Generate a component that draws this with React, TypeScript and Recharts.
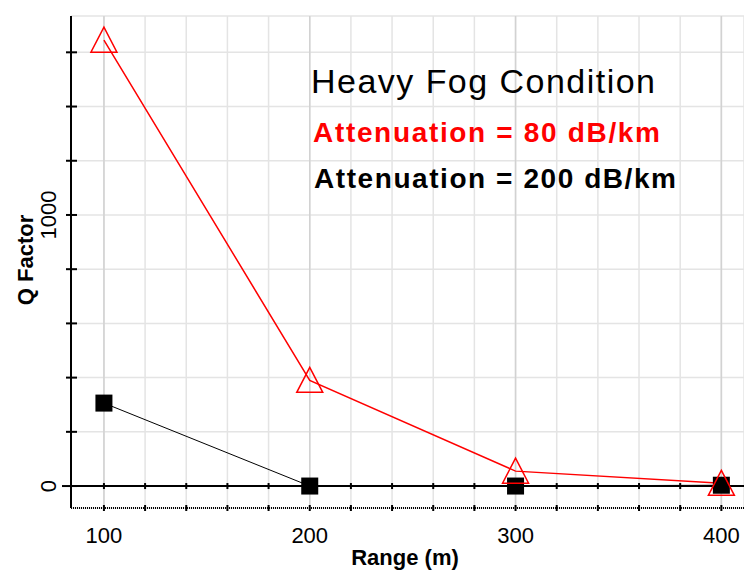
import { ComposedChart, Line, Scatter, XAxis, YAxis, CartesianGrid, ReferenceLine } from "recharts";

// Q factor vs range, heavy fog
const ranges = [100, 200, 300, 400];
const qAtt80 = [1645, 390, 55, 10];
const qAtt200 = [306, 0, 0, 3];

const xTicks = [100, 120, 140, 160, 180, 200, 220, 240, 260, 280, 300, 320, 340, 360, 380, 400];
const xLabels = [100, 200, 300, 400];
const yTicks = [0, 200, 400, 600, 800, 1000, 1200, 1400, 1600];
const yLabels = [0, 1000];

const rows = ranges.map((r, i) => ({ range: r, att80: qAtt80[i], att200: qAtt200[i] }));
const zeroMarks = xTicks.map((r) => ({ range: r, zero: 0 }));

const FONT = '"Liberation Sans", Arial, sans-serif';
const RED = "#ff0000";

const Triangle = (p: any) => {
  const { cx, cy } = p;
  return (
    <path
      key={`tri-${p.index}`}
      d={`M${cx},${cy - 13} L${cx + 13},${cy + 12} L${cx - 13},${cy + 12} Z`}
      fill="none"
      stroke={RED}
      strokeWidth={1.5}
    />
  );
};

const Square = (p: any) => (
  <rect key={`sq-${p.index}`} x={p.cx - 8.5} y={p.cy - 8.5} width={17} height={17} fill="#000" />
);

const ZeroTick = (p: any) => <line x1={p.cx} x2={p.cx} y1={p.cy - 3} y2={p.cy + 3} stroke="#000" strokeWidth={2} />;

const YTick = ({ x, y, payload }: any) => {
  const v = payload.value;
  return (
    <g>
      <line x1={v === 0 ? x - 9 : x - 5} x2={x + 6} y1={y} y2={y} stroke="#000" strokeWidth={2} />
      {yLabels.includes(v) && (
        <text transform={`translate(${x - 15},${y}) rotate(-90)`} textAnchor="middle" fontSize={22} fontFamily={FONT} fill="#000">
          {v}
        </text>
      )}
    </g>
  );
};

const XTick = ({ x, y, payload }: any) => {
  const v = payload.value;
  return (
    <g>
      <line x1={x} x2={x} y1={y - 3} y2={y + 3} stroke="#000" strokeWidth={2} />
      {xLabels.includes(v) && (
        <text x={x} y={y + 35} textAnchor="middle" fontSize={22} fontFamily={FONT} fill="#000">
          {v}
        </text>
      )}
    </g>
  );
};

export default function App() {
  return (
    <div style={{ position: "absolute", left: 0, top: 0, width: 744, height: 572, background: "#fff", overflow: "hidden" }}>
      <ComposedChart width={744} height={572} data={rows} margin={{ top: 16, right: 0, bottom: 0, left: 0 }}>
        <CartesianGrid stroke="#e4e4e4" strokeWidth={1.5} />
        {xLabels.map((v) => (
          <ReferenceLine key={v} x={v} stroke="#d2d2d2" strokeWidth={1.5} />
        ))}
        <XAxis
          dataKey="range"
          type="number"
          domain={[84, 411]}
          ticks={xTicks}
          interval={0}
          allowDataOverflow
          height={64}
          tickSize={0}
          tickMargin={0}
          tick={<XTick />}
          axisLine={{ stroke: "#000", strokeWidth: 2, strokeDasharray: "1 1" }}
        />
        <XAxis xAxisId="top" orientation="top" type="number" domain={[84, 411]} height={0} tick={false} tickLine={false} axisLine={{ stroke: "#000", strokeWidth: 1.5, strokeDasharray: "1.5 1.5" }} />
        <YAxis
          type="number"
          domain={[-81, 1734]}
          ticks={yTicks}
          interval={0}
          allowDataOverflow
          width={71}
          tickSize={0}
          tickMargin={0}
          tick={<YTick />}
          axisLine={{ stroke: "#000", strokeWidth: 2 }}
        />
        <ReferenceLine y={0} stroke="#000" strokeWidth={2} />
        <Scatter data={zeroMarks} dataKey="zero" shape={<ZeroTick />} isAnimationActive={false} />
        <Line dataKey="att200" stroke="#000" strokeWidth={1} dot={Square} activeDot={false} isAnimationActive={false} />
        <Line dataKey="att80" stroke={RED} strokeWidth={1.5} dot={Triangle} activeDot={false} isAnimationActive={false} />
      </ComposedChart>
      <svg width={744} height={572} style={{ position: "absolute", left: 0, top: 0, pointerEvents: "none" }} fontFamily={FONT}>
        <text x={311} y={93} fontSize={34} textLength={344} lengthAdjust="spacing" fill="#000">Heavy Fog Condition</text>
        <text x={313} y={142} fontSize={28} fontWeight="bold" textLength={347} lengthAdjust="spacing" fill={RED}>Attenuation = 80 dB/km</text>
        <text x={314} y={188} fontSize={28} fontWeight="bold" textLength={362} lengthAdjust="spacing" fill="#000">Attenuation = 200 dB/km</text>
        <text transform="translate(33,260) rotate(-90)" textAnchor="middle" fontSize={22} fontWeight="bold" fill="#000">Q Factor</text>
        <text x={405} y={565} textAnchor="middle" fontSize={22} fontWeight="bold" fill="#000">Range (m)</text>
      </svg>
    </div>
  );
}
